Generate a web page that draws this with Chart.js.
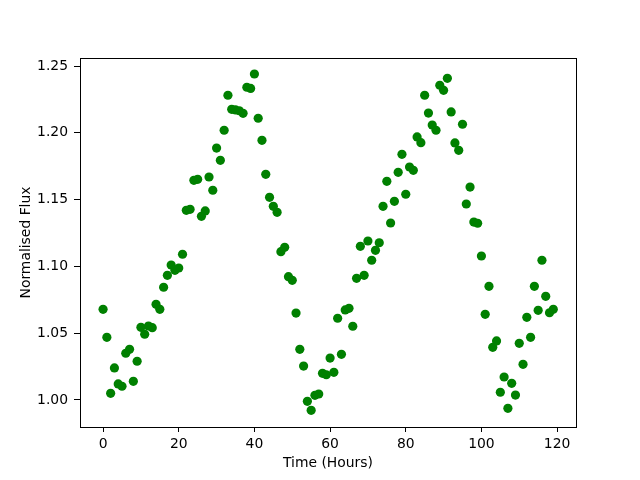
<!DOCTYPE html>
<html>
<head>
<meta charset="utf-8">
<script src="https://cdn.jsdelivr.net/npm/chart.js@4/dist/chart.umd.min.js"></script>
<style>
html,body{margin:0;padding:0;background:#ffffff;}
canvas{display:block;}
</style>
</head>
<body>
<canvas id="c" width="640" height="480"></canvas>
<script>
const timeHours = [
  0,1,2,3,4,5,6,7,8,9,10,11,12,13,14,15,16,17,18,19,
  20,21,22,23,24,25,26,27,28,29,30,31,32,33,34,35,36,37,38,39,
  40,41,42,43,44,45,46,47,48,49,50,51,52,53,54,55,56,57,58,59,
  60,61,62,63,64,65,66,67,68,69,70,71,72,73,74,75,76,77,78,79,
  80,81,82,83,84,85,86,87,88,89,90,91,92,93,94,95,96,97,98,99,
  100,101,102,103,104,105,106,107,108,109,110,111,112,113,114,115,116,117,118,119
];
const normalisedFlux = [
  1.0679,1.0469,1.0050,1.0240,1.0120,1.0103,1.0350,1.0379,1.0140,1.0290,
  1.0544,1.0492,1.0554,1.0541,1.0716,1.0679,1.0844,1.0933,1.1010,1.0971,
  1.0988,1.1091,1.1420,1.1427,1.1644,1.1652,1.1375,1.1415,1.1669,1.1570,
  1.1886,1.1794,1.2019,1.2281,1.2176,1.2171,1.2165,1.2146,1.2341,1.2332,
  1.2440,1.2109,1.1944,1.1689,1.1517,1.1450,1.1405,1.1110,1.1143,1.0923,
  1.0896,1.0651,1.0379,1.0254,0.9990,0.9923,1.0035,1.0045,1.0200,1.0189,
  1.0314,1.0207,1.0612,1.0342,1.0674,1.0686,1.0552,1.0911,1.1150,1.0933,
  1.1190,1.1046,1.1120,1.1177,1.1450,1.1637,1.1325,1.1487,1.1704,1.1839,
  1.1540,1.1744,1.1719,1.1969,1.1926,1.2281,1.2148,1.2058,1.2019,1.2356,
  1.2318,1.2408,1.2156,1.1924,1.1869,1.2064,1.1467,1.1594,1.1332,1.1323,
  1.1078,1.0641,1.0851,1.0394,1.0442,1.0058,1.0172,0.9938,1.0125,1.0037,
  1.0424,1.0267,1.0619,1.0469,1.0851,1.0671,1.1046,1.0776,1.0653,1.0679
];
const xTickValues = [0,20,40,60,80,100,120];
const yTickValues = [1.00,1.05,1.10,1.15,1.20,1.25];
const yTickLabels = ['1.00','1.05','1.10','1.15','1.20','1.25'];

const FONT = {family:'"DejaVu Sans", sans-serif', size:13.9};

const framePlugin = {
  id:'frame',
  afterDraw(chart){
    const a = chart.chartArea, c = chart.ctx;
    c.save();
    c.strokeStyle = '#000';
    c.lineWidth = 1;
    c.strokeRect(a.left + 0.5, a.top + 0.5, a.right - a.left, a.bottom - a.top);
    c.restore();
  }
};

const points = timeHours.map((t, i) => ({x: t, y: normalisedFlux[i]}));

new Chart(document.getElementById('c'), {
  type: 'scatter',
  data: {
    datasets: [{
      data: points,
      backgroundColor: '#008000',
      borderColor: '#008000',
      pointRadius: 4.6,
      pointBorderWidth: 0,
      pointHoverRadius: 4.6
    }]
  },
  options: {
    responsive: false,
    animation: false,
    events: [],
    layout: {padding: {left: 0, top: 58, right: 64, bottom: 0}},
    plugins: {legend: {display: false}, tooltip: {enabled: false}},
    scales: {
      x: {
        type: 'linear',
        min: -6.1,
        max: 125.0,
        afterBuildTicks: s => { s.ticks = xTickValues.map(v => ({value: v})); },
        afterFit: s => { s.height = 53; },
        grid: {drawOnChartArea: false, drawTicks: true, tickLength: 5, tickColor: '#000', tickWidth: 1},
        border: {color: '#000', width: 1},
        ticks: {color: '#000', font: FONT, padding: 4, maxRotation: 0, autoSkip: false,
                callback: v => String(v)},
        title: {display: true, text: 'Time (Hours)', color: '#000', font: FONT,
                padding: {top: 0, bottom: 8}}
      },
      y: {
        type: 'linear',
        min: 0.97979,
        max: 1.25599,
        afterBuildTicks: s => { s.ticks = yTickValues.map(v => ({value: v})); },
        afterFit: s => { s.width = 80; },
        grid: {drawOnChartArea: false, drawTicks: true, tickLength: 6, tickColor: '#000', tickWidth: 1},
        border: {color: '#000', width: 1},
        ticks: {color: '#000', font: FONT, padding: 6, autoSkip: false,
                callback: (v) => { const k = yTickValues.findIndex(t => Math.abs(t - v) < 1e-9); return k >= 0 ? yTickLabels[k] : ''; }},
        title: {display: true, text: 'Normalised Flux', color: '#000', font: FONT,
                padding: {top: 18, bottom: 0}}
      }
    }
  },
  plugins: [framePlugin]
});
</script>
</body>
</html>
